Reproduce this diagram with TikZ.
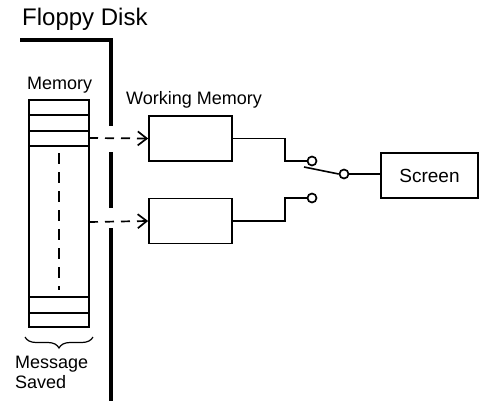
\documentclass[tikz,border=0pt]{standalone}
\usepackage{fontspec}
\setmainfont{Liberation Sans}
\usetikzlibrary{arrows.meta,decorations.pathreplacing}

\tikzset{
    disk/.style={line width=3.5pt},
    wmbox/.style={draw, line width=1.7pt, minimum width=83pt, minimum height=45pt, inner sep=0pt},
    contact/.style={circle, draw, fill=white, line width=1.7pt, minimum size=9pt, inner sep=0pt},
    transfer/.style={line width=1.7pt, dash pattern=on 9pt off 7pt, -{Straight Barb[length=9pt,width=14pt,line width=1.7pt]}},
    wire/.style={line width=1.6pt},
    lbl/.style={anchor=base west, inner sep=0pt, font=\fontsize{18}{20}\selectfont}
}

\begin{document}
\begin{tikzpicture}[x=1pt, y=-1pt]
    \useasboundingbox (0,0) rectangle (479,401);
    % floppy disk outline
    \node[lbl, font=\fontsize{24}{26}\selectfont] (floppy) at (22,26) {Floppy Disk};
    \draw[disk] (20,40) -- (111,40) -- (111,126);
    \draw[disk] (111,152) -- (111,208);
    \draw[disk] (111,228) -- (111,401);
    % memory on the disk
    \node[lbl] (memlabel) at (27,90) {Memory};
    \draw[line width=1.7pt] (29,100) rectangle (89,327);
    \draw[line width=1.7pt] (29,115) -- (89,115);
    \draw[line width=1.7pt] (29,131) -- (89,131);
    \draw[line width=1.7pt] (29,146) -- (89,146);
    \draw[line width=1.7pt] (29,297) -- (89,297);
    \draw[line width=1.7pt] (29,313) -- (89,313);
    \draw[line width=1.5pt, dash pattern=on 11pt off 8pt] (59,153) -- (59,290);
    \draw[line width=1.2pt, decorate, decoration={brace, mirror, amplitude=11pt}] (25,337) -- (93,337);
    \node[lbl] (message) at (15,368) {Message};
    \node[lbl] (saved) at (15,388) {Saved};
    \coordinate (mem1) at (89,138);
    \coordinate (mem2) at (89,222);
    % working memory
    \node[lbl] (wmlabel) at (126,105) {Working Memory};
    \node[wmbox] (wm1) at (190.5,138.5) {};
    \node[wmbox] (wm2) at (190.5,221) {};
    \draw[transfer] (mem1) -- (wm1.west);
    \draw[transfer] (mem2) -- (wm2.west);
    % switch and screen
    \node[contact] (c1) at (312,161) {};
    \node[contact] (c2) at (312,198) {};
    \node[contact] (hinge) at (344,174) {};
    \coordinate (blade) at (304,167);
    \node[draw, line width=1.7pt, minimum width=97pt, minimum height=45pt, inner sep=0pt,
          font=\fontsize{19}{21}\selectfont] (screen) at (429.5,175.5) {Screen};
    \draw[wire] (wm1.east) -- ++(52,0) |- (c1.west);
    \draw[wire] (wm2.east) -- ++(52,0) |- (c2.west);
    \draw[wire] (hinge.west) -- (blade);
    \draw[wire] (hinge.east) -- (screen.west |- hinge.east);
\end{tikzpicture}
\end{document}
